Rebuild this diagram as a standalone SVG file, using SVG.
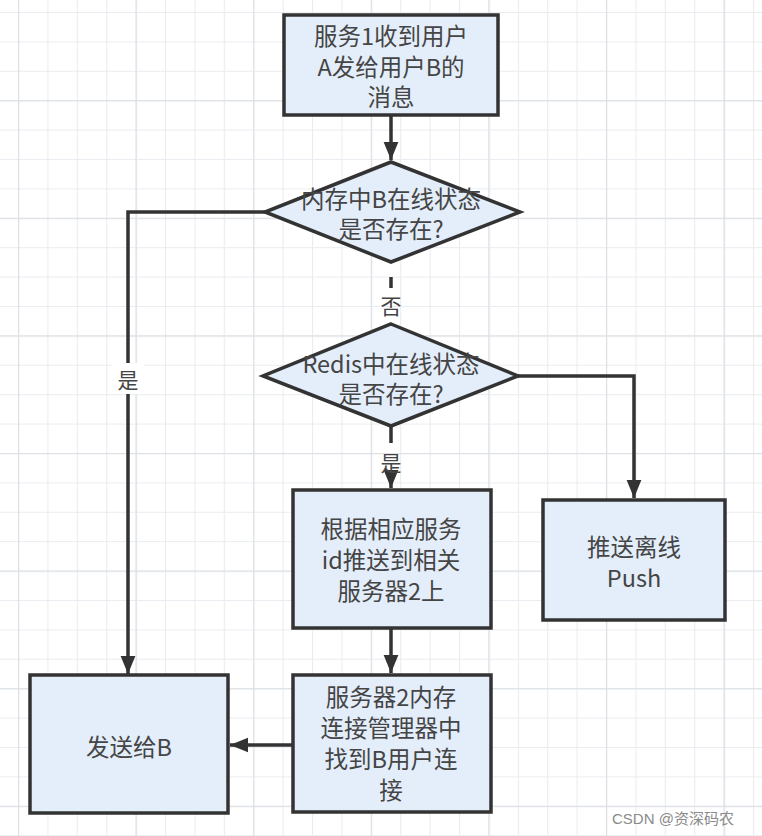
<svg xmlns="http://www.w3.org/2000/svg" width="762" height="836" viewBox="0 0 762 836">
<style>
.node{fill:#e4eefb;stroke:#333;stroke-width:3.5}
.t{font-family:"Noto Sans CJK SC","Noto Sans",sans-serif;font-size:23.5px;fill:#454545;text-anchor:middle}
.lbl{font-family:"Noto Sans CJK SC","Noto Sans",sans-serif;font-size:21px;fill:#454545;text-anchor:middle}
.e{fill:none;stroke:#333;stroke-width:3.5}
.wm{font-family:"Liberation Sans","Noto Sans CJK SC",sans-serif;font-size:15px;fill:#8a8a8a}
</style>
<defs>
<pattern id="g1" x="18" y="12" width="29.4" height="29.4" patternUnits="userSpaceOnUse">
<path d="M0.5 0V29.4M0 0.5H29.4" stroke="#e9ecf0" stroke-width="1.2" fill="none"/>
</pattern>
<pattern id="g4" x="18" y="-17.4" width="117.6" height="117.6" patternUnits="userSpaceOnUse">
<path d="M0.5 0V117.6M0 0.5H117.6" stroke="#dde1e6" stroke-width="1.5" fill="none"/>
</pattern>
<marker id="ah" markerUnits="userSpaceOnUse" markerWidth="18" markerHeight="22" viewBox="0 0 22 18" refX="22" refY="9" orient="auto">
<path d="M0 0L22 9L0 18Z" fill="#333"/>
</marker>
</defs>
<rect width="762" height="836" fill="#fff"/>
<rect width="762" height="836" fill="url(#g1)"/>
<rect width="762" height="836" fill="url(#g4)"/>

<g id="connectors">
<path class="e" d="M391 115V160" marker-end="url(#ah)"/>
<path class="e" d="M265 212H128V674" marker-end="url(#ah)"/>
<path class="e" d="M391 277V288"/>
<path class="e" d="M518 376H634V498" marker-end="url(#ah)"/>
<path class="e" d="M391 426V443"/>
<path class="e" d="M391 480V488" marker-end="url(#ah)"/>
<path class="e" d="M391 628V673" marker-end="url(#ah)"/>
<path class="e" d="M293 745H230" marker-end="url(#ah)"/>
<rect x="112" y="363" width="32" height="31" fill="#fff"/>
<text class="lbl" x="128" y="388">是</text>
<text class="lbl" x="391" y="314">否</text>
<text class="lbl" x="391" y="471">是</text>
</g>

<g id="n1">
<rect class="node" x="284" y="15" width="214" height="100"/>
<text class="t" x="391" y="45">服务1收到用户</text>
<text class="t" x="391" y="76">A发给用户B的</text>
<text class="t" x="391" y="106">消息</text>
</g>
<g id="d1">
<polygon class="node" points="391,162 520,212 391,262 265,212"/>
<text class="t" x="391" y="208">内存中B在线状态</text>
<text class="t" x="391" y="238">是否存在?</text>
</g>
<g id="d2">
<polygon class="node" points="391,324 518,376 391,426 263,376"/>
<text class="t" x="391" y="373">Redis中在线状态</text>
<text class="t" x="391" y="403">是否存在?</text>
</g>
<g id="n2">
<rect class="node" x="293" y="490" width="198" height="138"/>
<text class="t" x="391" y="538">根据相应服务</text>
<text class="t" x="391" y="569">id推送到相关</text>
<text class="t" x="391" y="600">服务器2上</text>
</g>
<g id="n3">
<rect class="node" x="543" y="500" width="182" height="120"/>
<text class="t" x="634" y="556">推送离线</text>
<text class="t" x="634" y="587">Push</text>
</g>
<g id="n4">
<rect class="node" x="293" y="675" width="198" height="137"/>
<text class="t" x="391" y="706">服务器2内存</text>
<text class="t" x="391" y="737">连接管理器中</text>
<text class="t" x="391" y="768">找到B用户连</text>
<text class="t" x="391" y="799">接</text>
</g>
<g id="n5">
<rect class="node" x="30" y="675" width="198" height="138"/>
<text class="t" x="129" y="756">发送给B</text>
</g>
<text class="wm" x="612" y="824">CSDN @资深码农</text>
</svg>
